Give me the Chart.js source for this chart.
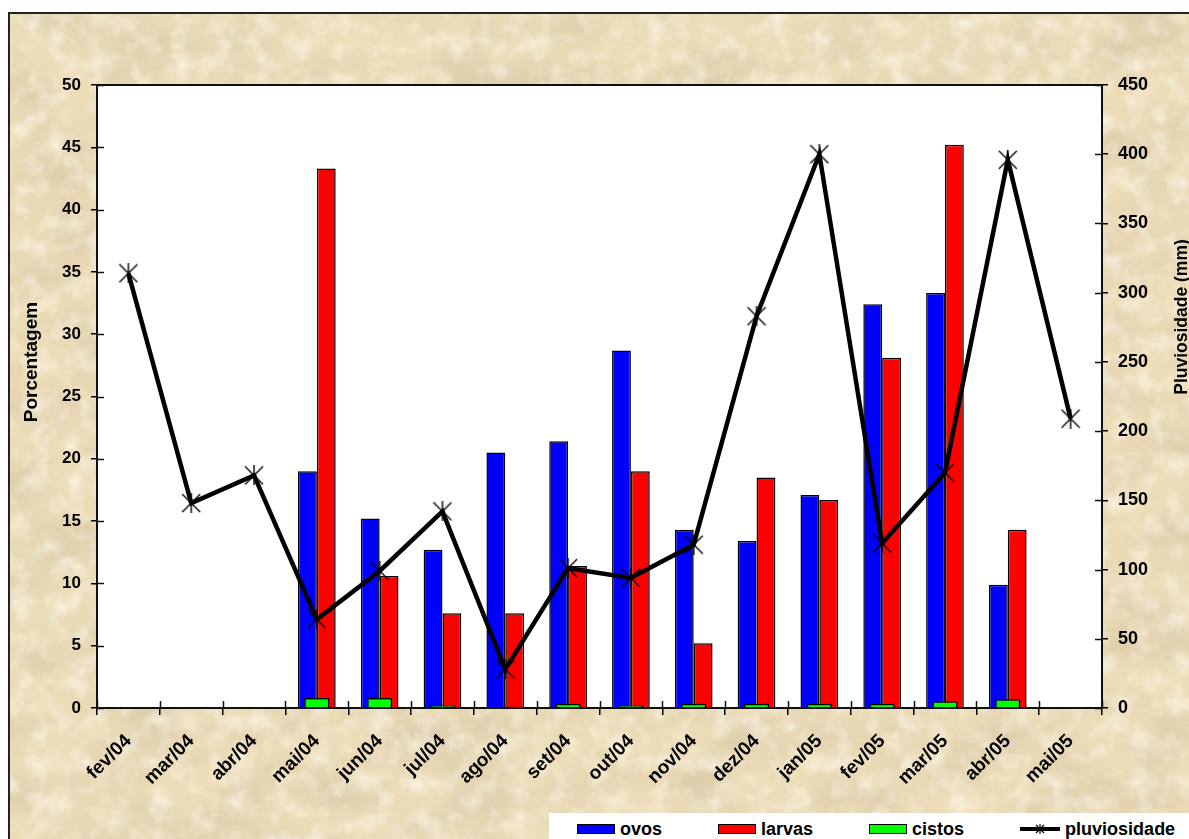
<!DOCTYPE html>
<html lang="pt">
<head>
<meta charset="utf-8">
<title>Ovos, larvas, cistos e pluviosidade</title>
<script src="https://cdn.jsdelivr.net/npm/chart.js@4.4.0/dist/chart.umd.min.js"></script>
<style>
  html, body { margin: 0; padding: 0; background: #fff; overflow: hidden; width: 1189px; height: 839px; }
  #quadro {
    position: absolute; left: 8px; top: 12px; width: 1200px; height: 840px;
    border: 2px solid #222; background-color: #ecdcb8;
  }
  #grafico { position: absolute; left: 0; top: 0; }
  #legenda {
    position: absolute; left: 549px; top: 813px; width: 800px; height: 40px;
    background: #fff; box-sizing: border-box; padding: 7px 0 0 28px; white-space: nowrap;
    font: bold 18px Arial, "Liberation Sans", sans-serif; color: #000;
  }
  #legenda .item { display: inline-flex; align-items: center; gap: 5px; line-height: 18px; height: 18px; margin-right: 56px; vertical-align: top; }
  #legenda .caixa { display: block; width: 36px; height: 8px; border: 1px solid #000; }
  #legenda canvas { display: block; }
</style>
</head>
<body>
<div id="quadro"></div>
<canvas id="grafico" width="1189" height="839"></canvas>
<div id="legenda"></div>
<script>
// dados mensais
var meses = ["fev/04", "mar/04", "abr/04", "mai/04", "jun/04", "jul/04", "ago/04", "set/04",
             "out/04", "nov/04", "dez/04", "jan/05", "fev/05", "mar/05", "abr/05", "mai/05"];
var ovos = [null, null, null, 19.0, 15.2, 12.7, 20.5, 21.4, 28.7, 14.3, 13.4, 17.1, 32.4, 33.3, 9.9, null];
var larvas = [null, null, null, 43.3, 10.6, 7.6, 7.6, 11.4, 19.0, 5.2, 18.5, 16.7, 28.1, 45.2, 14.3, null];
var cistos = [null, null, null, 0.8, 0.8, 0.2, 0.1, 0.35, 0.2, 0.35, 0.35, 0.35, 0.35, 0.55, 0.7, null];
var pluviosidade = [314, 148, 168, 64, 99, 142, 28, 101, 94, 118, 283, 400, 119, 170, 396, 209];

var fonte = "Arial, 'Liberation Sans', sans-serif";

// fundo de pergaminho
var svgFundo = "<svg xmlns='http://www.w3.org/2000/svg' width='1200' height='840'>" +
  "<filter id='p'><feTurbulence type='fractalNoise' baseFrequency='0.012 0.02' numOctaves='5' seed='7'/>" +
  "<feColorMatrix values='0 0 0 0 0.64  0 0 0 0 0.54  0 0 0 0 0.36  0 0 0 1.2 -0.45'/></filter>" +
  "<filter id='c'><feTurbulence type='fractalNoise' baseFrequency='0.05' numOctaves='3' seed='2'/>" +
  "<feColorMatrix values='0 0 0 0 1  0 0 0 0 0.98  0 0 0 0 0.9  0 0 0 1.3 -0.55'/></filter>" +
  "<rect width='100%' height='100%' filter='url(#p)'/>" +
  "<rect width='100%' height='100%' filter='url(#c)'/></svg>";
document.getElementById("quadro").style.backgroundImage =
  'url("data:image/svg+xml,' + encodeURIComponent(svgFundo) + '")';

// marcador em forma de asterisco
function estrela(tam, espessura) {
  var c = document.createElement("canvas");
  c.width = tam; c.height = tam;
  var g = c.getContext("2d");
  g.strokeStyle = "#000";
  g.lineWidth = espessura;
  g.beginPath();
  g.moveTo(1, 1); g.lineTo(tam - 1, tam - 1);
  g.moveTo(tam - 1, 1); g.lineTo(1, tam - 1);
  g.moveTo(tam / 2, 0); g.lineTo(tam / 2, tam);
  g.stroke();
  return c;
}
var marcador = estrela(20, 1.4);

// área do gráfico branca, moldura, marcas cruzando os eixos e títulos
var molduraPlugin = {
  id: "moldura",
  beforeDraw: function (chart) {
    var a = chart.chartArea, ctx = chart.ctx;
    ctx.save();
    ctx.fillStyle = "#fff";
    ctx.fillRect(a.left, a.top, a.right - a.left, a.bottom - a.top);
    ctx.restore();
  },
  afterDraw: function (chart) {
    var a = chart.chartArea, ctx = chart.ctx;
    ctx.save();
    ctx.strokeStyle = "#111";
    ctx.lineWidth = 2;
    ctx.strokeRect(a.left, a.top, a.right - a.left, a.bottom - a.top);

    ctx.lineWidth = 1.5;
    ctx.beginPath();
    chart.scales.y.ticks.forEach(function (t) {
      var py = Math.round(chart.scales.y.getPixelForValue(t.value)) + 0.5;
      ctx.moveTo(a.left, py); ctx.lineTo(a.left + 7, py);
    });
    chart.scales.y1.ticks.forEach(function (t) {
      var py = Math.round(chart.scales.y1.getPixelForValue(t.value)) + 0.5;
      ctx.moveTo(a.right - 7, py); ctx.lineTo(a.right, py);
    });
    var x = chart.scales.x;
    var passo = x.getPixelForValue(1) - x.getPixelForValue(0);
    for (var i = 0; i <= meses.length; i++) {
      var px = Math.round(x.getPixelForValue(i) - passo / 2) + 0.5;
      ctx.moveTo(px, a.bottom - 7); ctx.lineTo(px, a.bottom);
    }
    ctx.stroke();

    ctx.fillStyle = "#000";
    ctx.textAlign = "center";
    ctx.textBaseline = "middle";
    ctx.font = "bold 19px " + fonte;
    ctx.translate(32, 362);
    ctx.rotate(-Math.PI / 2);
    ctx.fillText("Porcentagem", 0, 0);
    ctx.setTransform(1, 0, 0, 1, 0, 0);
    ctx.font = "bold 17.5px " + fonte;
    ctx.translate(1182, 317);
    ctx.rotate(-Math.PI / 2);
    ctx.fillText("Pluviosidade (mm)", 0, 0);
    ctx.restore();
  }
};

var grafico = new Chart(document.getElementById("grafico"), {
  type: "bar",
  data: {
    labels: meses,
    datasets: [
      {
        label: "ovos",
        data: ovos,
        backgroundColor: "#0000ff",
        borderColor: "#000",
        borderWidth: 1.5,
        categoryPercentage: 0.6,
        barPercentage: 1.0,
        yAxisID: "y",
        order: 2
      },
      {
        label: "larvas",
        data: larvas,
        backgroundColor: "#ff0000",
        borderColor: "#000",
        borderWidth: 1.5,
        categoryPercentage: 0.6,
        barPercentage: 1.0,
        yAxisID: "y",
        order: 2
      },
      {
        label: "cistos",
        data: cistos,
        backgroundColor: "#00ff00",
        borderColor: "#000",
        borderWidth: 1.5,
        grouped: false,
        categoryPercentage: 0.4,
        barPercentage: 1.0,
        yAxisID: "y",
        order: 1
      },
      {
        type: "line",
        label: "pluviosidade",
        data: pluviosidade,
        borderColor: "#000",
        backgroundColor: "#000",
        borderWidth: 4.5,
        tension: 0,
        pointStyle: marcador,
        pointRadius: 10,
        yAxisID: "y1",
        order: 0
      }
    ]
  },
  options: {
    responsive: false,
    animation: false,
    devicePixelRatio: 1,
    layout: { padding: { top: 85, left: 0, right: 0, bottom: 0 } },
    plugins: {
      legend: { display: false },
      tooltip: { enabled: false }
    },
    scales: {
      x: {
        offset: true,
        grid: { offset: true, drawOnChartArea: false, drawTicks: true, tickLength: 7, color: "#000", lineWidth: 1.5 },
        border: { display: false },
        ticks: { color: "#000", font: { family: fonte, size: 19, weight: "bold" }, minRotation: 45, maxRotation: 45, autoSkip: false, padding: 15 },
        afterFit: function (s) { s.height = 131; }
      },
      y: {
        position: "left",
        min: 0, max: 50,
        grid: { drawOnChartArea: false, tickLength: 6, color: "#000", lineWidth: 1.5 },
        border: { display: false },
        ticks: { stepSize: 5, color: "#000", font: { family: fonte, size: 17, weight: "bold" }, padding: 10 },
        afterFit: function (s) { s.width = 97; }
      },
      y1: {
        position: "right",
        min: 0, max: 450,
        grid: { drawOnChartArea: false, tickLength: 6, color: "#000", lineWidth: 1.5 },
        border: { display: false },
        ticks: { stepSize: 50, color: "#000", font: { family: fonte, size: 18, weight: "bold" }, padding: 10 },
        afterFit: function (s) { s.width = 87; }
      }
    }
  },
  plugins: [molduraPlugin]
});

// legenda em HTML, na ordem das séries
var legenda = document.getElementById("legenda");
grafico.data.datasets.forEach(function (ds) {
  var item = document.createElement("div");
  item.className = "item";
  var simbolo;
  if (ds.type === "line") {
    simbolo = document.createElement("canvas");
    simbolo.width = 40; simbolo.height = 12;
    var g = simbolo.getContext("2d");
    g.fillStyle = "#000";
    g.fillRect(0, 4, 40, 4);
    g.drawImage(estrela(10, 1.2), 15, 1);
  } else {
    simbolo = document.createElement("span");
    simbolo.className = "caixa";
    simbolo.style.background = ds.backgroundColor;
  }
  var texto = document.createElement("span");
  texto.textContent = ds.label;
  item.appendChild(simbolo);
  item.appendChild(texto);
  legenda.appendChild(item);
});
</script>
</body>
</html>
